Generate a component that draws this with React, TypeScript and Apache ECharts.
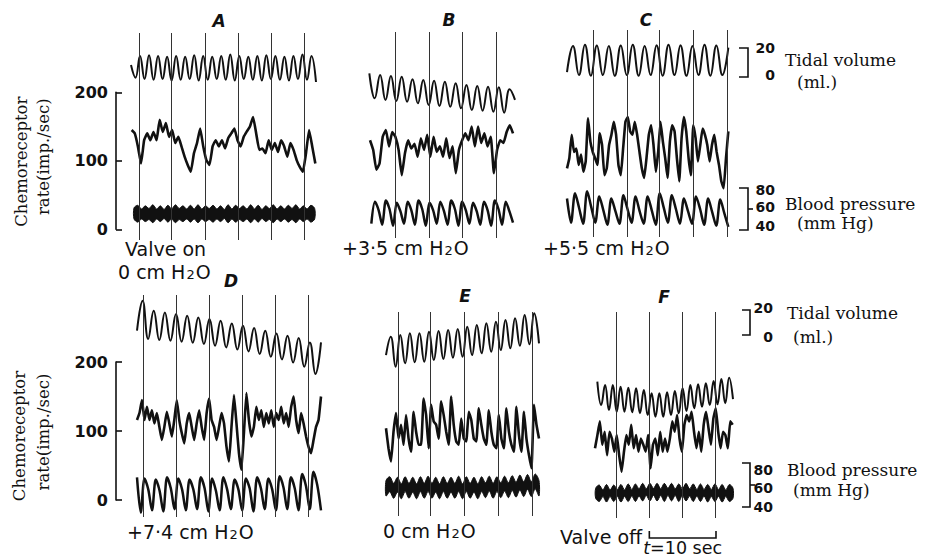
import React, { useEffect, useRef } from "react";
import * as echarts from "echarts";

// ---------------- data ----------------
const panelTitles = ["A", "B", "C", "D", "E", "F"];
// condition labels: [before subscript, subscript, after] so that H₂O gets a real subscript
const conditionLabels = [
  ["Valve on", "", ""],
  ["0 cm H", "2", "O"],
  ["+3·5 cm H", "2", "O"],
  ["+5·5 cm H", "2", "O"],
  ["+7·4 cm H", "2", "O"],
  ["0 cm H", "2", "O"],
  ["Valve off", "", ""],
];
const chemoAxis = { min: 0, max: 200, step: 100 }; // imp./sec
const tidalBar = [0, 20]; // ml
const bpBar = [40, 60, 80]; // mm Hg
const tBarSeconds = 10;

// visible time window of each panel (s)
const durations = [27.7, 22, 24.3, 27.6, 23, 20.7];

// time marks (s)
const markersA = [1.2, 6.1, 11.1, 16.1, 21.0, 26.0];
const markersB = [4.1, 9.1, 14.1, 19.2];
const markersC = [3.9, 9.0, 13.8, 18.9, 24.0];
const markersD = [0.95, 5.95, 10.85, 15.85, 20.8, 25.7];
const markersE = [1.85, 6.7, 11.8, 16.8, 21.95];
const markersF = [3.15, 8.15, 13.15, 18.1];

// tidal volume (ml above the panel's lowest trough), peaks/troughs
const tidalA = [11.7, 3, 18, 2, 18.5, 1.5, 18, 2, 17.5, 1, 18, 1.5, 17.5, 2, 18.5, 1, 18, 1.5, 17.5, 2, 18, 1.5, 19, 1, 18, 2, 17.5, 1.5, 18, 1, 18.5, 2, 18, 1.5, 17.5, 1, 18, 2, 19, 1.5, 18, 0];
const tidalB = [27.4, 10.1, 26.2, 9, 25.5, 8.3, 25, 7.8, 23.2, 6.7, 22.7, 5.5, 22.3, 4.8, 21.6, 4.3, 20.5, 3.2, 19.3, 2.1, 18.6, 1.6, 18.1, 0.9, 17.7, 0.2, 16.3, 9];
const tidalC = [4, 22, 2, 23, 1.5, 22.5, 2, 22, 1.5, 22.5, 2, 23, 1.5, 22, 2, 22.5, 1.5, 23, 2, 22.5, 1.5, 22, 2, 23, 1.5, 22.5, 2, 21];
const tidalD = [34.7, 58.7, 28, 50.7, 27.2, 49.3, 26.7, 48, 25.9, 46.7, 25.1, 45.3, 24, 44, 22.7, 42.7, 21.3, 40.5, 19.7, 38.7, 18.1, 36.8, 16, 34.7, 13.9, 32.5, 11.7, 30.7, 9.3, 28.8, 5.9, 25.3, 0, 25.3];
const tidalE = [9.3, 24, 0, 25.3, 2.7, 26.7, 3.5, 26.7, 4, 28, 5.3, 28.5, 6.1, 29.3, 7.2, 30.1, 8, 32, 9.3, 33.3, 10.7, 34.7, 12, 36, 13.3, 37.3, 14.7, 38.7, 16.8, 41.3, 17.9, 42.7, 18.7];
const tidalF = [28, 9.3, 25.3, 5.3, 25.3, 4, 24, 4, 23.2, 3.5, 22.7, 2.7, 21.3, 1.3, 18.7, 0, 18.7, 0, 19.5, 1.3, 20.5, 2.7, 22.7, 4.5, 25.3, 6.7, 25.9, 8, 26.7, 9.3, 28.5, 9.9, 30.1, 10.7, 31.2, 14];
const tidalSpans = [[0, 27.7], [0.2, 22.0], [0, 24.2], [0, 27.6], [0, 23], [0.35, 20.7]];

// chemoreceptor rate (imp./sec)
const chemoA = [145, 140, 121, 96, 130, 140, 130, 142, 130, 160, 142, 155, 135, 145, 126, 135, 121, 106, 94, 84, 111, 126, 147, 121, 101, 94, 121, 130, 121, 130, 118, 133, 140, 147, 130, 121, 135, 143, 150, 164, 140, 116, 118, 111, 130, 116, 126, 113, 130, 121, 106, 126, 116, 101, 91, 84, 111, 145, 121, 96];
const chemoB = [130, 116, 87, 96, 135, 145, 121, 142, 135, 116, 79, 111, 130, 118, 125, 106, 133, 116, 138, 106, 135, 113, 121, 106, 133, 104, 121, 82, 116, 130, 140, 130, 150, 121, 150, 126, 140, 121, 135, 82, 116, 130, 126, 142, 152, 140];
const chemoC = [89, 104, 138, 113, 118, 94, 109, 84, 99, 162, 128, 113, 104, 94, 140, 123, 79, 89, 123, 138, 157, 138, 94, 79, 118, 157, 164, 143, 138, 157, 138, 113, 89, 75, 104, 138, 152, 123, 84, 113, 157, 128, 104, 75, 128, 152, 143, 104, 70, 133, 164, 143, 104, 79, 152, 133, 99, 123, 147, 138, 123, 99, 123, 138, 113, 94, 70, 60, 104, 143];
const chemoD = [116, 126, 145, 116, 135, 116, 130, 111, 126, 106, 87, 106, 128, 111, 92, 116, 145, 116, 97, 82, 111, 126, 106, 87, 111, 130, 106, 87, 126, 147, 116, 106, 87, 106, 126, 111, 77, 56, 106, 152, 111, 68, 44, 97, 155, 116, 92, 106, 135, 116, 130, 106, 126, 111, 130, 106, 126, 116, 135, 111, 126, 106, 135, 150, 116, 97, 126, 111, 92, 77, 68, 87, 106, 116, 150];
const chemoE = [104, 75, 56, 99, 126, 89, 109, 80, 123, 89, 70, 128, 99, 80, 80, 147, 123, 75, 138, 114, 109, 89, 143, 123, 99, 80, 150, 109, 85, 80, 118, 89, 85, 128, 116, 89, 85, 133, 109, 89, 80, 130, 99, 80, 75, 123, 89, 75, 133, 99, 80, 70, 135, 94, 70, 128, 89, 65, 46, 138, 109, 89];
const chemoF = [75, 94, 114, 80, 99, 65, 99, 89, 70, 94, 65, 41, 70, 94, 80, 109, 75, 94, 70, 89, 80, 70, 94, 46, 80, 89, 65, 99, 70, 89, 70, 89, 114, 99, 123, 89, 70, 109, 123, 114, 128, 99, 75, 99, 70, 109, 128, 104, 80, 118, 133, 99, 75, 99, 94, 75, 114, 109];
const chemoSpans = [[0.1, 27.6], [0.3, 21.7], [0, 24.2], [0, 27.6], [0, 23], [0, 20.65]];

// blood pressure (mm Hg): single pen trace for B, C, D
const bpB = [46, 67, 59, 45, 68, 60, 44, 66, 58, 46, 67, 59, 45, 68, 60, 44, 66, 59, 46, 67, 58, 45, 68, 60, 44, 67, 59, 46, 66, 58, 45, 67, 59, 44, 68, 60, 45, 67, 58, 47];
const bpC = [70, 47, 75, 61, 46, 77, 62, 47, 72, 59, 45, 70, 58, 46, 73, 60, 47, 72, 58, 46, 72, 59, 45, 75, 61, 47, 73, 60, 46, 70, 58, 46, 72, 60, 45, 70, 57, 44, 69, 56, 43];
const bpD = [67, 35, 66, 56, 37, 65, 55, 36, 67, 57, 38, 66, 56, 37, 65, 56, 38, 67, 57, 36, 66, 55, 37, 67, 56, 38, 65, 56, 37, 66, 57, 36, 67, 57, 38, 66, 56, 37, 68, 58, 38, 67, 57, 37, 70, 59, 38, 72, 60, 37];
// blood pressure band (upper / lower envelope) for A, E, F
const bpSysA = [61, 63.5, 60, 63, 60.5, 64, 60, 63, 59.5, 63.5, 60, 64, 60.5, 63, 60, 63.5, 60, 64, 60, 63, 60.5, 63.5, 60, 63, 59.5, 64, 60, 63.5, 60.5, 63, 60, 64, 60, 63.5, 59.5, 63, 60.5, 64, 60, 63, 60, 63.5, 60.5, 64, 60, 63, 60, 63.5, 60.5];
const bpDiaA = [50.5, 47.5, 50.5, 48, 50, 47, 50.5, 48, 51, 47.5, 50.5, 47, 50, 48, 50.5, 47.5, 50.5, 47, 50.5, 48, 50, 47.5, 50.5, 48, 51, 47, 50.5, 47.5, 50, 48, 50.5, 47, 50.5, 47.5, 51, 48, 50, 47, 50.5, 48, 50.5, 47.5, 50, 47, 50.5, 48, 50.5, 47.5, 50.5];
const bpSysE = [64, 67.5, 61.5, 67, 61, 67.5, 61.5, 67, 61, 67.5, 61.5, 68, 61.5, 67, 61, 67.5, 61.5, 67, 61.5, 68, 61, 67.5, 61.5, 67, 61, 67.5, 62, 68, 61.5, 67.5, 62, 68, 62, 68.5, 62.5, 69, 63, 69.5, 63, 70, 64];
const bpDiaE = [50, 53.9, 47.9, 53.5, 47.5, 54, 48, 53.5, 47.5, 54, 48, 54, 48, 53.5, 47.5, 54, 48, 53.5, 48, 54, 47.5, 54, 48, 53.5, 47.5, 54, 48.5, 54.5, 48, 54, 48.5, 54.5, 48.5, 55, 49, 55.5, 49.5, 56, 49.5, 56.5, 50];
const bpSysF = [57, 60, 55.5, 60.5, 55.5, 60, 56, 60.5, 55.5, 61, 56, 61, 56.5, 61.5, 56.5, 61.5, 57, 61.5, 56.5, 61.5, 57, 61.5, 56.5, 61, 56.5, 61.5, 56.5, 61, 56, 61, 56, 60.5, 56, 61, 56, 60.5, 55.5, 60.5, 57];
const bpDiaF = [48, 45, 49.5, 44.5, 49.5, 45, 49.5, 44.5, 49.5, 45, 50, 45, 50, 45.5, 50.5, 45.5, 50.5, 45.5, 50.5, 45, 50.5, 45.5, 50.5, 45, 50.5, 45.5, 50, 45, 50, 45, 50, 44.5, 49.5, 45, 49.5, 44.5, 49.5, 45, 48];
const bpSpans = [[0.45, 27.5], [0.5, 21.7], [0, 24.2], [0, 27.6], [0, 23], [0.1, 20.7]];

// ---------------- layout (pixels) ----------------
const ROW = [
  { chemoZeroY: 229.3, chemoPx: 0.685, bp40Y: 230, bpPx: 1.05, tidalPx: 1.45, tidalBarZeroY: 77 },
  { chemoZeroY: 500, chemoPx: 0.69, bp40Y: 507, bpPx: 1.1, tidalPx: 1.25, tidalBarZeroY: 335 },
];
const BOX = [
  { left: 131, top: 33, width: 185, bottom: 240, row: 0, tidalBaseY: 82, title: [219, 21] },
  { left: 368, top: 32, width: 147, bottom: 238, row: 0, tidalBaseY: 113, title: [449, 20] },
  { left: 567, top: 30, width: 162, bottom: 237, row: 0, tidalBaseY: 78, title: [646, 20] },
  { left: 137, top: 295, width: 184, bottom: 517, row: 1, tidalBaseY: 374, title: [231, 281] },
  { left: 386, top: 312, width: 153, bottom: 516, row: 1, tidalBaseY: 366.7, title: [465, 296] },
  { left: 595, top: 312, width: 138, bottom: 518, row: 1, tidalBaseY: 416.7, title: [664, 297] },
];
const LABEL_POS = [[125, 249], [118, 272], [342, 248], [543, 248], [127, 532], [383, 531], [560, 537]];
const AXIS_X = 116;

const INK = "#111";
const SANS = '"DejaVu Sans", sans-serif';
const SERIF = '"DejaVu Serif", serif';

const seq = (vals: number[], span: number[]) =>
  vals.map((v, i) => [span[0] + (i * (span[1] - span[0])) / (vals.length - 1), v]);

const axisRange = (v0: number, y0: number, s: number, top: number, bottom: number) => ({
  min: v0 - (bottom - y0) / s,
  max: v0 + (y0 - top) / s,
});

const PANELS = [
  { markers: markersA, tidal: tidalA, chemo: chemoA, bpSys: bpSysA, bpDia: bpDiaA },
  { markers: markersB, tidal: tidalB, chemo: chemoB, bp: bpB },
  { markers: markersC, tidal: tidalC, chemo: chemoC, bp: bpC },
  { markers: markersD, tidal: tidalD, chemo: chemoD, bp: bpD },
  { markers: markersE, tidal: tidalE, chemo: chemoE, bpSys: bpSysE, bpDia: bpDiaE },
  { markers: markersF, tidal: tidalF, chemo: chemoF, bpSys: bpSysF, bpDia: bpDiaF },
] as any[];

function text(x: number, y: number, t: string, font: string, align = "left", extra: any = {}) {
  return {
    type: "text",
    x,
    y,
    silent: true,
    ...extra,
    style: { text: t, font, fill: INK, textAlign: align, textVerticalAlign: "middle", ...(extra.style || {}) },
  };
}
function poly(points: number[][], w = 1.6) {
  return { type: "polyline", silent: true, shape: { points }, style: { stroke: INK, lineWidth: w, fill: null } };
}

function buildOption() {
  const grid: any[] = [];
  const xAxis: any[] = [];
  const yAxis: any[] = [];
  const series: any[] = [];

  BOX.forEach((b, i) => {
    const r = ROW[b.row];
    grid.push({ left: b.left, top: b.top, width: b.width, height: b.bottom - b.top });
    xAxis.push({ type: "value", gridIndex: i, min: 0, max: durations[i], show: false });
    const tr = axisRange(0, b.tidalBaseY, r.tidalPx, b.top, b.bottom);
    const cr = axisRange(0, r.chemoZeroY, r.chemoPx, b.top, b.bottom);
    const br = axisRange(40, r.bp40Y, r.bpPx, b.top, b.bottom);
    yAxis.push({ type: "value", gridIndex: i, show: false, ...tr });
    yAxis.push({ type: "value", gridIndex: i, show: false, ...cr });
    yAxis.push({ type: "value", gridIndex: i, show: false, ...br });

    const p = PANELS[i];
    const common = { xAxisIndex: i, silent: true, clip: false, animation: false };
    series.push({
      ...common,
      type: "line",
      symbol: "none",
      yAxisIndex: 3 * i,
      data: seq(p.tidal, tidalSpans[i]),
      smooth: 0.45,
      lineStyle: { color: INK, width: 2 },
      markLine: {
        silent: true,
        symbol: ["none", "none"],
        label: { show: false },
        lineStyle: { color: "#333", width: 1, type: "solid" },
        data: p.markers.map((t: number) => ({ xAxis: t })),
      },
    });
    series.push({
      ...common,
      type: "line",
      symbol: "none",
      yAxisIndex: 3 * i + 1,
      data: seq(p.chemo, chemoSpans[i]),
      smooth: 0.12,
      lineStyle: { color: INK, width: 2.6 },
    });
    if (p.bp) {
      series.push({
        ...common,
        type: "line",
        symbol: "none",
        yAxisIndex: 3 * i + 2,
        data: seq(p.bp, bpSpans[i]),
        smooth: 0.3,
        lineStyle: { color: INK, width: 2.5 },
      });
    } else {
      const sys = seq(p.bpSys, bpSpans[i]);
      const band = sys.map((d, k) => [d[0], d[1], p.bpDia[k]]);
      series.push({
        ...common,
        type: "custom",
        yAxisIndex: 3 * i + 2,
        encode: { x: 0, y: [1, 2] },
        data: band,
        renderItem: (params: any, api: any) => {
          if (params.dataIndex !== 0) return null;
          const upper = band.map((d) => api.coord([d[0], d[1]]));
          const lower = band.map((d) => api.coord([d[0], d[2]])).reverse();
          return {
            type: "polygon",
            shape: { points: upper.concat(lower), smooth: 0.3 },
            style: { fill: INK, stroke: INK, lineWidth: 1 },
          };
        },
      });
    }
  });

  // left chemoreceptor axes (one per row)
  ROW.forEach((r, k) => {
    const gi = BOX.length + k;
    const h = (chemoAxis.max - chemoAxis.min) * r.chemoPx;
    grid.push({ left: AXIS_X, top: r.chemoZeroY - h, width: 10, height: h });
    xAxis.push({ type: "value", gridIndex: gi, min: 0, max: 1, show: false });
    yAxis.push({
      type: "value",
      gridIndex: gi,
      min: chemoAxis.min,
      max: chemoAxis.max,
      interval: chemoAxis.step,
      position: "left",
      axisLine: { show: true, lineStyle: { color: INK, width: 1.6 } },
      axisTick: { show: true, inside: true, length: 6, lineStyle: { color: INK, width: 1.6 } },
      axisLabel: { show: true, color: INK, fontFamily: "DejaVu Sans", fontWeight: "bold", fontSize: 16, margin: 8 },
      splitLine: { show: false },
    });
  });

  return { grid, xAxis, yAxis, series };
}

function buildGraphic(tBar: number[] | null) {
  const g: any[] = [];
  // panel titles
  BOX.forEach((b, i) => {
    g.push(text(b.title[0], b.title[1], panelTitles[i], `italic bold 17px ${SANS}`, "center"));
  });
  // condition labels (with subscript 2)
  conditionLabels.forEach((parts, i) => {
    const [a, sub, c] = parts;
    const t = sub ? `{n|${a}}{s|${sub}}{n|${c}}` : `{n|${a}}`;
    g.push({
      type: "text",
      x: LABEL_POS[i][0],
      y: LABEL_POS[i][1],
      silent: true,
      style: {
        text: t,
        font: `19px ${SANS}`,
        fill: INK,
        textAlign: "left",
        textVerticalAlign: "middle",
        rich: {
          n: { fontFamily: "DejaVu Sans", fontSize: 19, lineHeight: 18, fill: INK, verticalAlign: "middle" },
          s: { fontFamily: "DejaVu Sans", fontSize: 13, lineHeight: 18, fill: INK, verticalAlign: "bottom", padding: [0, 1, 0, 1] },
        },
      },
    });
  });
  // y-axis title (rotated)
  const rot = { rotation: Math.PI / 2 };
  g.push(text(21.5, 161.7, "Chemoreceptor", `16.5px ${SERIF}`, "center", rot));
  g.push(text(43.5, 156.7, "rate(imp./sec)", `16.5px ${SERIF}`, "center", rot));
  g.push(text(19.5, 436, "Chemoreceptor", `16.5px ${SERIF}`, "center", rot));
  g.push(text(43, 432, "rate(imp./sec)", `16.5px ${SERIF}`, "center", rot));

  // right-hand scale bars
  const bars = [
    { x0: 739, x1: 748, numX: 775, words: 785, sub: 797, num: { tid: [48, 75], bp: [190, 207, 226] }, wordY: [60, 82, 204, 223] },
    { x0: 742, x1: 750, numX: 773, words: 787, sub: 793, num: { tid: [308, 337], bp: [470, 488, 507] }, wordY: [313, 337, 470, 490] },
  ];
  bars.forEach((s, k) => {
    const r = ROW[k];
    const tTop = r.tidalBarZeroY - (tidalBar[1] - tidalBar[0]) * r.tidalPx;
    g.push(poly([[s.x0, tTop], [s.x1, tTop], [s.x1, r.tidalBarZeroY], [s.x0, r.tidalBarZeroY]]));
    const bpY = bpBar.map((v) => r.bp40Y - (v - 40) * r.bpPx);
    g.push(poly([[s.x0, bpY[2]], [s.x1, bpY[2]], [s.x1, bpY[0]], [s.x0, bpY[0]]]));
    g.push(poly([[s.x1, bpY[1]], [s.x1 + 5, bpY[1]]]));
    g.push(text(s.numX, s.num.tid[0], String(tidalBar[1]), `bold 14px ${SANS}`, "right"));
    g.push(text(s.numX, s.num.tid[1], String(tidalBar[0]), `bold 14px ${SANS}`, "right"));
    g.push(text(s.numX, s.num.bp[0], String(bpBar[2]), `bold 14px ${SANS}`, "right"));
    g.push(text(s.numX, s.num.bp[1], String(bpBar[1]), `bold 14px ${SANS}`, "right"));
    g.push(text(s.numX, s.num.bp[2], String(bpBar[0]), `bold 14px ${SANS}`, "right"));
    g.push(text(s.words, s.wordY[0], "Tidal volume", `17px ${SERIF}`));
    g.push(text(s.sub, s.wordY[1], "(ml.)", `17px ${SERIF}`));
    g.push(text(s.words, s.wordY[2], "Blood pressure", `17px ${SERIF}`));
    g.push(text(s.sub, s.wordY[3], "(mm Hg)", `17px ${SERIF}`));
  });

  // time scale bar
  if (tBar) {
    const [xa, xb] = tBar;
    g.push(poly([[xa, 531], [xa, 538], [xb, 538], [xb, 531]], 1.6));
    g.push({
      type: "text",
      x: (xa + xb) / 2,
      y: 548,
      silent: true,
      style: {
        text: `{i|t}{n|=${tBarSeconds} sec}`,
        font: `17.5px ${SANS}`,
        fill: INK,
        textAlign: "center",
        textVerticalAlign: "middle",
        rich: {
          i: { fontStyle: "italic", fontFamily: "DejaVu Sans", fontSize: 17.5, lineHeight: 17, fill: INK },
          n: { fontFamily: "DejaVu Sans", fontSize: 17.5, lineHeight: 17, fill: INK },
        },
      },
    });
  }
  return g;
}

export default function App() {
  const ref = useRef<HTMLDivElement>(null);
  useEffect(() => {
    if (!ref.current) return;
    const chart = echarts.init(ref.current, undefined, { renderer: "svg" });
    const base: any = { animation: false, backgroundColor: "#fff", ...buildOption() };
    chart.setOption({ ...base, graphic: buildGraphic(null) });
    const tStart = markersF[1];
    const xa = chart.convertToPixel({ xAxisIndex: 5 } as any, tStart) as number;
    const xb = chart.convertToPixel({ xAxisIndex: 5 } as any, tStart + tBarSeconds) as number;
    chart.setOption({ ...base, graphic: buildGraphic([xa, xb]) }, true);
    return () => chart.dispose();
  }, []);
  return (
    <div
      ref={ref}
      style={{ position: "absolute", left: 0, top: 0, width: 934, height: 557, background: "#fff" }}
    />
  );
}
